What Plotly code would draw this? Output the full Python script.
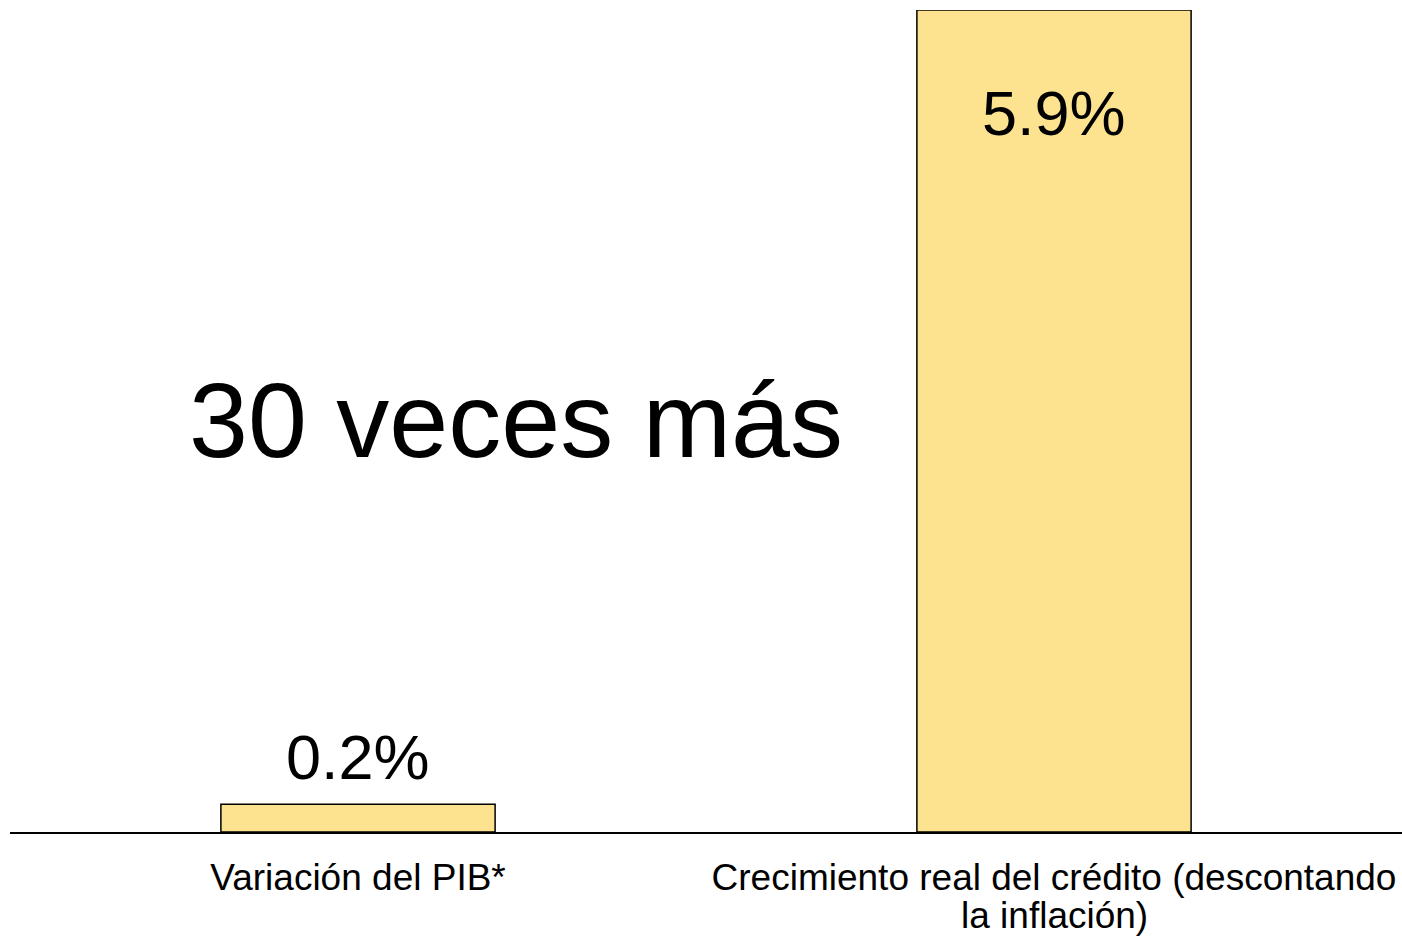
import plotly.graph_objects as go

categories = ["Variación del PIB*", "Crecimiento real del crédito (descontando la inflación)"]
tick_line1 = ["Variación del PIB*", "Crecimiento real del crédito (descontando"]
tick_line2 = ["", "la inflación)"]
values = [0.2, 5.9]
value_labels = ["0.2%", "5.9%"]
label_shift = [47, -103]
headline = "30 veces más"

FONT = "Liberation Sans, Arial, sans-serif"

fig = go.Figure()
fig.add_trace(go.Bar(
    x=categories, y=values,
    marker=dict(color="#FDE38F", line=dict(color="#000000", width=1.5)),
    hoverinfo="skip",
))

for c, v, t, s in zip(categories, values, value_labels, label_shift):
    fig.add_annotation(x=c, y=v, text=t, showarrow=False, yshift=s,
                       font=dict(family=FONT, size=63, color="#000000"),
                       xanchor="center", yanchor="middle")

for c, t in zip(categories, tick_line2):
    if t:
        fig.add_annotation(x=c, xref="x", yref="paper", y=0, yshift=-83, text=t,
                           showarrow=False, xanchor="center", yanchor="middle",
                           font=dict(family=FONT, size=37, color="#000000"))

fig.add_annotation(xref="paper", yref="paper", x=(516 - 10) / 1392, y=(832 - 420) / 822,
                   text=headline, showarrow=False, xanchor="center", yanchor="middle",
                   font=dict(family=FONT, size=106, color="#000000"))

fig.update_layout(
    width=1402, height=936,
    margin=dict(l=10, r=0, t=10, b=104),
    paper_bgcolor="white", plot_bgcolor="white",
    bargap=0.606,
    showlegend=False,
    font=dict(family=FONT, color="#000000"),
)
fig.update_xaxes(showline=True, linecolor="#000000", linewidth=1.5, ticks="",
                 tickmode="array", tickvals=categories, ticktext=tick_line1,
                 ticklabelstandoff=12,
                 tickfont=dict(family=FONT, size=37, color="#000000"), showgrid=False)
fig.update_yaxes(range=[0, 5.9], visible=False, showgrid=False, zeroline=False)

fig.write_html("out.html", config={"displayModeBar": False},
               post_script="document.body.style.margin='0';document.body.style.overflow='hidden';")
